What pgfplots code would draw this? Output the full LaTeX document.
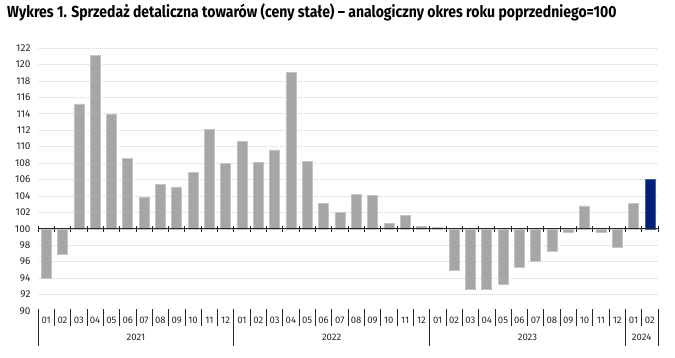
\documentclass[border=0pt]{standalone}
\usepackage{pgfplots}
\usepackage{pgfplotstable}
\pgfplotsset{compat=1.18}
\usepackage{fontspec}
\setmainfont{Fira Sans}
\newfontfamily\titlefont[FakeStretch=0.875]{Fira Sans}
\definecolor{bargray}{HTML}{A6A6A6}
\definecolor{baredge}{HTML}{C4C4C4}
\definecolor{navy}{HTML}{00207A}
\definecolor{gridc}{HTML}{D4D4D4}

\pgfplotstableread{
x v
1 94.0
2 96.9
3 115.2
4 121.1
5 114.0
6 108.6
7 103.9
8 105.4
9 105.1
10 106.9
11 112.1
12 108.0
13 110.6
14 108.1
15 109.6
16 119.0
17 108.2
18 103.1
19 102.0
20 104.2
21 104.1
22 100.7
23 101.6
24 100.3
25 100.2
26 95.0
27 92.6
28 92.6
29 93.2
30 95.3
31 96.0
32 97.3
33 99.6
34 102.8
35 99.6
36 97.7
37 103.1
}\graytab
\pgfplotstableread{
x v
38 106.0
}\navytab

\begin{document}
\begin{tikzpicture}
\path[use as bounding box] (-38pt,-46pt) rectangle (637pt,311pt);
\node[anchor=base west, font=\titlefont\bfseries\fontsize{16}{19}\selectfont, inner sep=0pt]
  at (-31pt,294pt) {Wykres 1. Sprzedaż detaliczna towarów (ceny stałe) – analogiczny okres roku poprzedniego=100};
\begin{axis}[
  scale only axis,
  width=620pt, height=263pt,
  xmin=0.5, xmax=38.5,
  ymin=-10, ymax=22,
  clip=false,
  axis line style={draw=none},
  major tick length=0pt,
  ytick={-8,-6,...,22},
  extra y ticks={-10},
  extra y tick style={grid=none},
  ymajorgrids,
  grid style={gridc, line width=0.6pt, dash pattern=on 1.2pt off 0.8pt},
  yticklabel={\pgfmathparse{int(\tick+100)}\pgfmathresult},
  yticklabel style={font=\fontsize{10}{12}\selectfont, text=black!85, anchor=east, xshift=-4pt},
  xtick={1,...,38},
  xticklabels={01,02,03,04,05,06,07,08,09,10,11,12,01,02,03,04,05,06,07,08,09,10,11,12,01,02,03,04,05,06,07,08,09,10,11,12,01,02},
  xticklabel style={font=\fontsize{9.5}{11}\selectfont, text=black!85, anchor=base, yshift=-12.5pt},
  ybar, bar width=10pt,
]
\addplot[ybar, bar shift=0pt, fill=bargray, draw=baredge, line width=0.5pt]
  table[x=x, y expr=\thisrow{v}-100] {\graytab};
\addplot[ybar, bar shift=0pt, fill=navy, draw=navy!70!white, line width=0.5pt]
  table[x=x, y expr=\thisrow{v}-100] {\navytab};
\draw[black!85, line width=0.8pt] (axis cs:0.5,0) -- (axis cs:38.5,0);
\pgfplotsinvokeforeach{0.5,1.5,...,38.5}{
  \draw[black!85, line width=0.7pt] ([yshift=-3pt]axis cs:#1,0) -- ([yshift=3pt]axis cs:#1,0);
}
\pgfplotsinvokeforeach{1.5,2.5,...,11.5}{
  \draw[black!85, line width=0.6pt] ([yshift=2pt]axis cs:#1,-10) -- ([yshift=-15pt]axis cs:#1,-10);
}
\pgfplotsinvokeforeach{13.5,14.5,...,23.5}{
  \draw[black!85, line width=0.6pt] ([yshift=2pt]axis cs:#1,-10) -- ([yshift=-15pt]axis cs:#1,-10);
}
\pgfplotsinvokeforeach{25.5,26.5,...,35.5}{
  \draw[black!85, line width=0.6pt] ([yshift=2pt]axis cs:#1,-10) -- ([yshift=-15pt]axis cs:#1,-10);
}
\draw[black!85, line width=0.6pt] ([yshift=2pt]axis cs:37.5,-10) -- ([yshift=-15pt]axis cs:37.5,-10);
\pgfplotsinvokeforeach{0.5,12.5,24.5,36.5,38.5}{
  \draw[black!85, line width=0.6pt] ([yshift=2pt]axis cs:#1,-10) -- ([yshift=-35pt]axis cs:#1,-10);
}
\node[font=\fontsize{9.5}{11}\selectfont, text=black!85, anchor=base] at ([yshift=-29.5pt]axis cs:6.5,-10) {2021};
\node[font=\fontsize{9.5}{11}\selectfont, text=black!85, anchor=base] at ([yshift=-29.5pt]axis cs:18.5,-10) {2022};
\node[font=\fontsize{9.5}{11}\selectfont, text=black!85, anchor=base] at ([yshift=-29.5pt]axis cs:30.5,-10) {2023};
\node[font=\fontsize{9.5}{11}\selectfont, text=black!85, anchor=base] at ([yshift=-29.5pt]axis cs:37.5,-10) {2024};
\end{axis}
\end{tikzpicture}
\end{document}
